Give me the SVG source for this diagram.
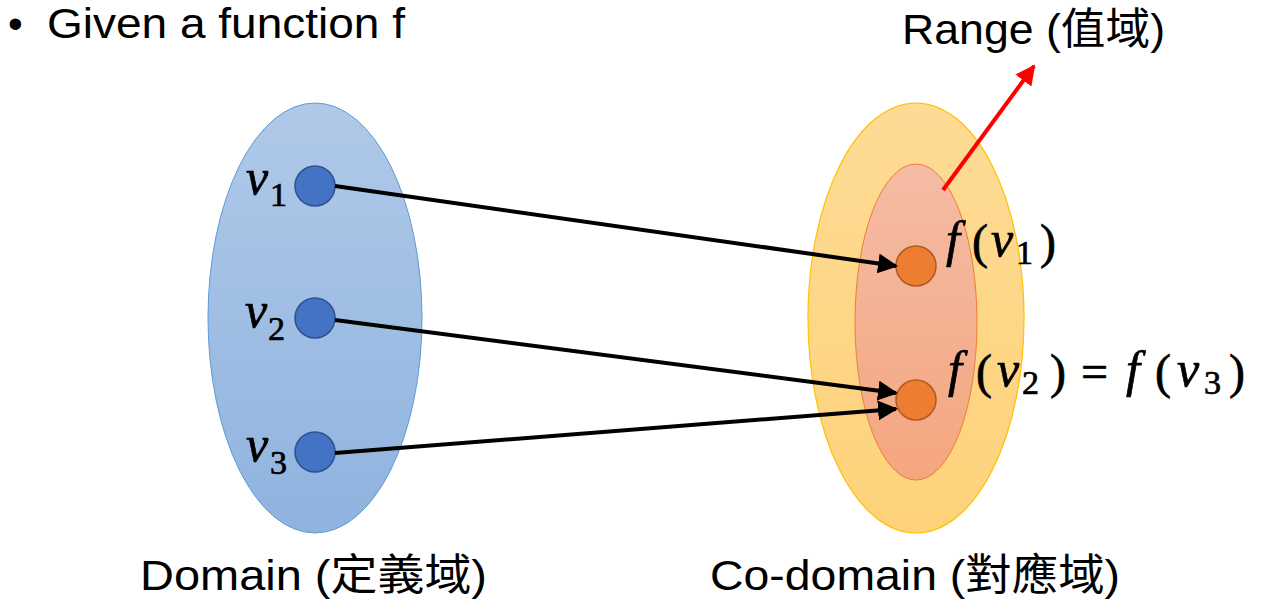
<svg xmlns="http://www.w3.org/2000/svg" width="1264" height="610" viewBox="0 0 1264 610">
<defs>
  <linearGradient id="gBlue" x1="0" y1="0" x2="0" y2="1">
    <stop offset="0" stop-color="#b0c9e8"/>
    <stop offset="1" stop-color="#8fb3df"/>
  </linearGradient>
  <linearGradient id="gYel" x1="0" y1="0" x2="0" y2="1">
    <stop offset="0" stop-color="#fedb95"/>
    <stop offset="1" stop-color="#fdd27a"/>
  </linearGradient>
  <linearGradient id="gRange" x1="0" y1="0" x2="0" y2="1">
    <stop offset="0" stop-color="#f5bca5"/>
    <stop offset="1" stop-color="#f4a67f"/>
  </linearGradient>
  <marker id="ahBlack" viewBox="0 0 10 10" refX="9" refY="5" markerWidth="5" markerHeight="5" orient="auto" markerUnits="strokeWidth">
    <path d="M0,0 L10,5 L0,10 z" fill="#000"/>
  </marker>
  <marker id="ahRed" viewBox="0 0 10 10" refX="9" refY="5" markerWidth="5" markerHeight="5" orient="auto" markerUnits="strokeWidth">
    <path d="M0,0 L10,5 L0,10 z" fill="#ff0000"/>
  </marker>
</defs>
<style>
  .txt { font-family: "Liberation Sans", "Noto Sans CJK TC", sans-serif; fill: #000; }
  .math { font-family: "Liberation Serif", "DejaVu Serif", serif; fill: #000; stroke: #000; stroke-width: 0.7; font-size: 50px; }
  .mi { font-style: italic; }
  .sub { font-size: 34px; }
  .par { font-size: 48px; }
  .dom { fill: #4472c4; stroke: #2f528f; stroke-width: 1.5; }
  .cod { fill: #ed7d31; stroke: #ae5a21; stroke-width: 1.5; }
  .conn { stroke: #000; stroke-width: 4; fill: none; marker-end: url(#ahBlack); }
</style>
<rect width="1264" height="610" fill="#ffffff"/>

<g id="title">
  <text class="txt" x="8" y="38" font-size="42">•</text>
  <text class="txt" x="47" y="38" font-size="42" textLength="358" lengthAdjust="spacingAndGlyphs">Given a function f</text>
</g>

<g id="domain">
  <ellipse cx="315" cy="318" rx="107" ry="215" fill="url(#gBlue)" stroke="#5b9bd5" stroke-width="1"/>
  <text class="txt" x="140" y="590" font-size="43" textLength="347" lengthAdjust="spacingAndGlyphs">Domain (定義域)</text>
</g>

<g id="codomain">
  <ellipse cx="916" cy="318" rx="108" ry="215" fill="url(#gYel)" stroke="#ffc000" stroke-width="1.2"/>
  <text class="txt" x="710" y="590" font-size="43" textLength="410" lengthAdjust="spacingAndGlyphs">Co-domain (對應域)</text>
</g>

<g id="range">
  <ellipse cx="916" cy="322" rx="61" ry="158" fill="url(#gRange)" stroke="#ed7d31" stroke-width="1"/>
  <text class="txt" x="902" y="44" font-size="43" textLength="263" lengthAdjust="spacingAndGlyphs">Range (值域)</text>
</g>

<g id="v1">
  <circle class="dom" cx="315" cy="186" r="20"/>
  <text class="math"><tspan class="mi" x="246" y="194">v</tspan><tspan class="sub" x="270" y="206">1</tspan></text>
</g>
<g id="v2">
  <circle class="dom" cx="315" cy="318" r="20"/>
  <text class="math"><tspan class="mi" x="245" y="327">v</tspan><tspan class="sub" x="268" y="340">2</tspan></text>
</g>
<g id="v3">
  <circle class="dom" cx="315" cy="452" r="20"/>
  <text class="math"><tspan class="mi" x="246" y="461">v</tspan><tspan class="sub" x="270" y="474">3</tspan></text>
</g>

<g id="fv1">
  <circle class="cod" cx="916" cy="266" r="20"/>
  <text class="math"><tspan class="mi" x="946" y="256">f</tspan><tspan class="par" x="972" y="258">(</tspan><tspan class="mi" x="991" y="256">v</tspan><tspan class="sub" x="1016" y="264">1</tspan><tspan class="par" x="1040" y="258">)</tspan></text>
</g>
<g id="fv2">
  <circle class="cod" cx="916" cy="400" r="20"/>
  <text class="math"><tspan class="mi" x="948" y="386">f</tspan><tspan class="par" x="976" y="388">(</tspan><tspan class="mi" x="997" y="386">v</tspan><tspan class="sub" x="1022" y="394">2</tspan><tspan class="par" x="1050" y="388">)</tspan><tspan class="par" x="1081" y="388">=</tspan><tspan class="mi" x="1126" y="386">f</tspan><tspan class="par" x="1155" y="388">(</tspan><tspan class="mi" x="1177" y="386">v</tspan><tspan class="sub" x="1204" y="394">3</tspan><tspan class="par" x="1229" y="388">)</tspan></text>
</g>

<g id="connectors">
  <line class="conn" x1="335" y1="186" x2="896" y2="266"/>
  <line class="conn" x1="335" y1="320" x2="896" y2="393"/>
  <line class="conn" x1="335" y1="453" x2="896" y2="409"/>
  <line x1="943" y1="190" x2="1034" y2="66" stroke="#ff0000" stroke-width="4" marker-end="url(#ahRed)"/>
</g>
</svg>
